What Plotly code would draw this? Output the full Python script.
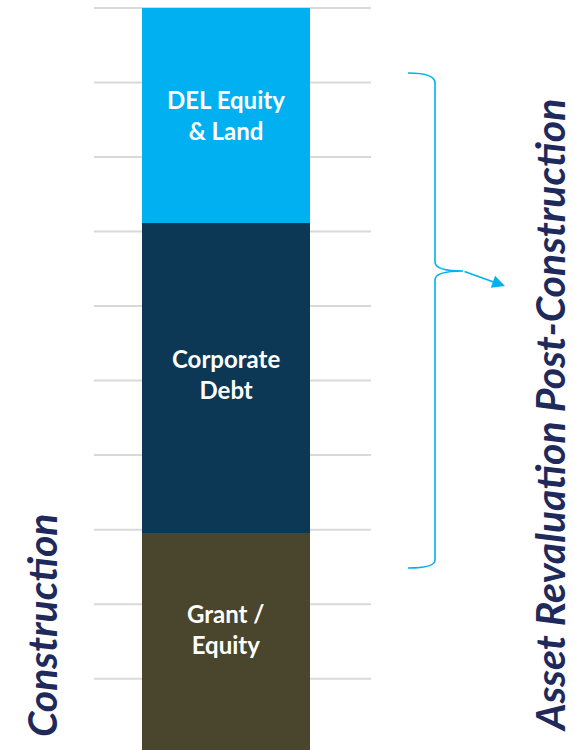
import plotly.graph_objects as go

# Data
segments = ["Grant / Equity", "Corporate Debt", "DEL Equity & Land"]
labels = ["Grant /<br>Equity", "Corporate<br>Debt", "DEL Equity<br>& Land"]
values = [2.95, 4.17, 2.88]
colors = ["#4A452D", "#0C3855", "#00B0F0"]
grid_ticks = [1, 2, 3, 4, 5, 6, 7, 8, 9, 10]
left_title = "Construction"
right_title = "Asset Revaluation Post-Construction"

W, H = 574, 750

fig = go.Figure()
for name, v, c in zip(segments, values, colors):
    fig.add_trace(go.Bar(x=[0], y=[v], name=name, marker=dict(color=c, line=dict(width=0)),
                         width=1, showlegend=False, hoverinfo="skip"))

# gridlines (short, behind bar)
for t in grid_ticks:
    fig.add_shape(type="line", xref="x", yref="y", x0=-0.786, x1=0.863, y0=t, y1=t,
                  line=dict(color="#D9D9D9", width=2), layer="below")

# in-bar labels
label_offsets = [0.19, 0.05, 0.0]
base = 0
for lab, v, off in zip(labels, values, label_offsets):
    fig.add_annotation(x=0, y=base + v / 2 + off, xref="x", yref="y", text=lab, showarrow=False,
                       font=dict(family="Lato", size=24, color="white", weight="bold"),
                       align="center", xanchor="center", yanchor="middle")
    base += v

def px(x, y):
    return x / W, 1 - y / H

# brace
pts = {
    "a": (408, 73), "b": (435, 73), "c": (435, 83), "d": (435, 262), "e": (435, 271),
    "f": (463, 271), "g": (435, 280), "h": (435, 560), "i": (435, 568), "j": (408, 568),
}
P = {k: px(*v) for k, v in pts.items()}
path = ("M {a[0]},{a[1]} Q {b[0]},{b[1]} {c[0]},{c[1]} L {d[0]},{d[1]} Q {e[0]},{e[1]} {f[0]},{f[1]} "
        "Q {e[0]},{e[1]} {g[0]},{g[1]} L {h[0]},{h[1]} Q {i[0]},{i[1]} {j[0]},{j[1]}").format(**P)
fig.add_shape(type="path", xref="paper", yref="paper", path=path,
              line=dict(color="#00B0F0", width=1.6))

# arrow
tx, ty = px(505, 286)
fig.add_annotation(x=tx, y=ty, xref="paper", yref="paper", ax=463 - 505, ay=271 - 286,
                   showarrow=True, arrowhead=2, arrowsize=1.6, arrowwidth=1.6,
                   arrowcolor="#00B0F0", text="")

# rotated titles
lx, ly = px(41, 625)
fig.add_annotation(x=lx, y=ly, xref="paper", yref="paper", text=left_title, showarrow=False,
                   textangle=-90, xanchor="center", yanchor="middle", borderpad=0,
                   font=dict(family="Lato", size=41, color="#1F2A5C",
                             weight="bold", style="italic"))
rx, ry = px(549, 416)
fig.add_annotation(x=rx, y=ry, xref="paper", yref="paper", text=right_title, showarrow=False,
                   textangle=-90, xanchor="center", yanchor="middle", borderpad=0,
                   font=dict(family="Lato", size=41, color="#1F2A5C",
                             weight="bold", style="italic"))

x_lo = -0.5 - 142 / 168
x_hi = 0.5 + (W - 310) / 168
scale = (753.2 - 8) / 10
fig.update_layout(
    width=W, height=H, margin=dict(l=0, r=0, t=0, b=0),
    paper_bgcolor="white", plot_bgcolor="white", barmode="stack", bargap=0,
    xaxis=dict(range=[x_lo, x_hi], visible=False, fixedrange=True),
    yaxis=dict(range=[(753.2 - H) / scale, 10 + 8 / scale], visible=False, fixedrange=True),
)
fig.write_html("out.html")
